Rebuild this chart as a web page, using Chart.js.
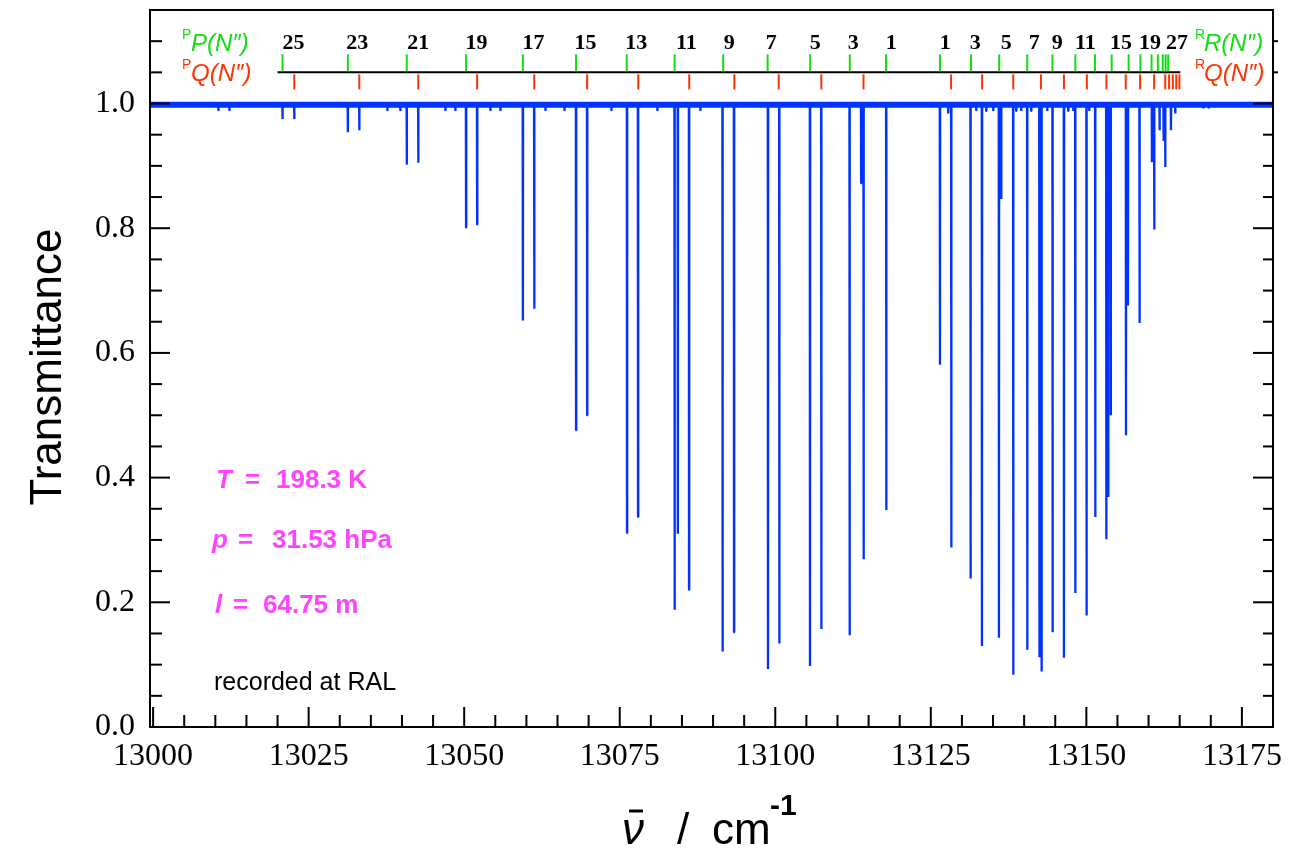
<!DOCTYPE html>
<html><head><meta charset="utf-8">
<script src="https://cdn.jsdelivr.net/npm/chart.js@4.4.1/dist/chart.umd.min.js"></script>
<style>html,body{margin:0;padding:0;background:#fff}#wrap{width:1302px;height:857px;position:relative}</style>
</head><body><div id="wrap"><canvas id="c"></canvas></div>
<script>
// ---- data (wavenumber in cm^-1, transmittance) ----
const lineNu = [13010.49,13012.26,13020.80,13022.69,13031.30,13033.14,13037.65,13039.74,13040.77,13042.62,
  13046.97,13048.58,13050.30,13052.08,13054.21,13055.82,13059.43,13061.26,13063.06,13066.11,
  13067.98,13069.76,13073.66,13076.17,13077.94,13081.05,13083.82,13084.34,13086.14,13087.96,
  13091.53,13093.37,13098.83,13100.65,13105.58,13107.40,13111.95,13113.80,13114.20,13117.84,
  13126.47,13127.79,13128.29,13131.39,13132.30,13133.22,13133.90,13135.03,13135.95,13136.32,
  13138.25,13138.72,13139.53,13140.50,13141.13,13142.45,13142.80,13143.71,13144.57,13146.40,
  13147.08,13147.89,13148.22,13150.03,13150.46,13151.43,13153.20,13153.52,13153.92,13156.37,
  13156.69,13158.55,13160.54,13160.91,13161.77,13162.41,13162.68,13163.60,13164.29,13168.80,13169.70];
const lineT = [0.988,0.988,0.975,0.975,0.954,0.957,0.988,0.988,0.902,0.905,
  0.988,0.988,0.801,0.806,0.988,0.988,0.652,0.671,0.988,0.988,
  0.476,0.500,0.988,0.311,0.337,0.988,0.188,0.310,0.220,0.988,
  0.121,0.152,0.093,0.134,0.098,0.157,0.147,0.872,0.269,0.348,
  0.581,0.985,0.288,0.238,0.988,0.130,0.988,0.988,0.143,0.847,
  0.084,0.988,0.988,0.124,0.988,0.112,0.089,0.988,0.152,0.111,
  0.988,0.988,0.215,0.179,0.988,0.337,0.301,0.369,0.500,0.468,
  0.676,0.648,0.906,0.798,0.957,0.940,0.898,0.957,0.984,0.992,0.992];
const continuum = 0.998;
const xRange = [12999.5, 13180];
const yRange = [0, 1.15];
const xTicks = [13000,13025,13050,13075,13100,13125,13150,13175];
const yTicks = [0.0,0.2,0.4,0.6,0.8,1.0];
// assignment markers
const greenTickNu = [13020.80,13031.30,13040.77,13050.30,13059.43,13067.98,13076.12,13083.82,13091.63,13098.77,13105.61,13111.98,13117.80,
  13126.47,13131.47,13135.99,13140.50,13144.55,13148.23,13151.38,13154.07,13156.80,13158.69,13160.48,13161.49,13162.28,13162.74,13163.16];
const redTickNu = [13022.69,13033.14,13042.62,13052.08,13061.26,13069.76,13077.97,13086.17,13093.42,13100.55,13107.40,13114.18,
  13128.26,13133.25,13138.25,13142.70,13146.40,13150.08,13153.23,13156.33,13158.64,13160.89,13162.68,13163.30,13163.90,13164.45,13164.95];
const markerLineNu = [13020.0, 13165.1];
const markerLevel = 1.05;
const labelNu = [13022.55,13032.83,13042.63,13051.96,13061.12,13069.48,13077.67,13085.71,13092.62,13099.37,13106.44,13112.55,13118.65,
  13127.33,13132.15,13137.13,13141.63,13145.33,13149.83,13155.57,13160.23,13164.57];
const labelText = ['25','23','21','19','17','15','13','11','9','7','5','3','1',
  '1','3','5','7','9','11','15','19','27'];

// ---- build spectrum from the line list ----
const spectrum = [{x:xRange[0], y:continuum}];
lineNu.forEach((nu,i)=>{
  spectrum.push({x:nu-0.03,y:continuum},{x:nu,y:lineT[i]},{x:nu+0.03,y:continuum});
});
spectrum.push({x:xRange[1], y:continuum});
const band = [{x:xRange[0],y:continuum},{x:xRange[1],y:continuum}];

const BLUE='#0033ff', GREEN='#11dd11', RED='#ff3300', MAG='#ff44ff';

const annot = {
  id:'annot',
  afterDraw(chart){
    const {ctx, chartArea:a, scales:{x,y}} = chart;
    ctx.save();
    const seg=(x1,y1,x2,y2)=>{ctx.beginPath();ctx.moveTo(x1,y1);ctx.lineTo(x2,y2);ctx.stroke();};
    // frame
    ctx.strokeStyle='#000'; ctx.lineWidth=2;
    ctx.strokeRect(a.left,a.top,a.right-a.left,a.bottom-a.top);
    // x ticks (inward)
    for(let v=13000; v<=13180; v+=5){
      const px=x.getPixelForValue(v), major=(v%25===0);
      seg(px,a.bottom,px,a.bottom-(major?20:12));
    }
    // y ticks
    for(let i=1;i<=22;i++){
      const v=i*0.05, py=y.getPixelForValue(v), major=(i%4===0 && i<=20);
      seg(a.left,py,a.left+(major?20:12),py);
      if(i<=20) seg(a.right,py,a.right-(major?20:10),py);
      else seg(a.right,py,a.right+5,py);
    }
    // assignment markers
    const my=y.getPixelForValue(markerLevel);
    ctx.strokeStyle='#000'; ctx.lineWidth=2;
    seg(x.getPixelForValue(markerLineNu[0]),my,x.getPixelForValue(markerLineNu[1]),my);
    ctx.strokeStyle=GREEN;
    greenTickNu.forEach(nu=>{const px=x.getPixelForValue(nu); seg(px,my-1,px,my-18);});
    ctx.strokeStyle=RED;
    redTickNu.forEach(nu=>{const px=x.getPixelForValue(nu); seg(px,my+2,px,my+17);});
    ctx.fillStyle='#000'; ctx.textAlign='center'; ctx.textBaseline='alphabetic';
    ctx.font='bold 22px "Liberation Serif"';
    labelNu.forEach((nu,i)=>ctx.fillText(labelText[i], x.getPixelForValue(nu), my-23));
    // branch legends
    const leg=(px,base,sup,main,col)=>{
      ctx.fillStyle=col; ctx.textAlign='left';
      ctx.font='14px "Liberation Sans"'; ctx.fillText(sup,px,base-12);
      ctx.font='italic 24px "Liberation Sans"'; ctx.fillText(main,px+9,base);
    };
    leg(182,my-21,'P','P(N\u2033)',GREEN);
    leg(182,my+9,'P','Q(N\u2033)',RED);
    leg(1195,my-21,'R','R(N\u2033)',GREEN);
    leg(1195,my+9,'R','Q(N\u2033)',RED);
    // conditions
    ctx.fillStyle=MAG; ctx.textAlign='left';
    const cond=(sym,sx,ex,val,vx,base)=>{
      ctx.font='italic bold 26px "Liberation Sans"'; ctx.fillText(sym,sx,base);
      ctx.font='bold 26px "Liberation Sans"'; ctx.fillText('=',ex,base); ctx.fillText(val,vx,base);
    };
    cond('T',216,245,'198.3 K',276,488);
    cond('p',212,238,'31.53 hPa',272,548);
    cond('l',215,233,'64.75 m',263,613);
    ctx.fillStyle='#000'; ctx.font='25px "Liberation Sans"';
    ctx.fillText('recorded at RAL',214,690);
    // axis titles
    ctx.save();
    ctx.translate(61,367); ctx.rotate(-Math.PI/2);
    ctx.textAlign='center'; ctx.font='44px "Liberation Sans"';
    ctx.fillText('Transmittance',0,0);
    ctx.restore();
    ctx.textAlign='left';
    ctx.font='italic 44px "Liberation Sans"'; ctx.fillText('\u03bd',622,844);
    ctx.lineWidth=3; ctx.strokeStyle='#000'; seg(629,811,643,811);
    ctx.font='44px "Liberation Sans"'; ctx.fillText('/',677,844); ctx.fillText('cm',712,844);
    ctx.font='bold 30px "Liberation Sans"'; ctx.fillText('-1',770,815);
    ctx.restore();
  }
};

new Chart(document.getElementById('c'),{
  type:'line',
  data:{datasets:[
    {data:band, borderColor:BLUE, borderWidth:6, pointRadius:0, tension:0},
    {data:spectrum, borderColor:BLUE, borderWidth:2.3, pointRadius:0, tension:0, borderJoinStyle:'bevel'}
  ]},
  options:{
    responsive:true, maintainAspectRatio:false, animation:false,
    layout:{padding:{top:10,right:29,left:0,bottom:0}},
    plugins:{legend:{display:false},tooltip:{enabled:false}},
    scales:{
      x:{type:'linear',min:xRange[0],max:xRange[1],
        grid:{display:false,drawTicks:false}, border:{display:false},
        afterBuildTicks:s=>{s.ticks=xTicks.map(v=>({value:v}));},
        afterFit:s=>{s.height=130; s.paddingLeft=0; s.paddingRight=0;},
        ticks:{autoSkip:false,maxRotation:0,padding:10,color:'#000',font:{family:'Liberation Serif',size:32},callback:v=>String(v)}},
      y:{type:'linear',min:yRange[0],max:yRange[1],
        grid:{display:false,drawTicks:false}, border:{display:false},
        afterBuildTicks:s=>{s.ticks=yTicks.map(v=>({value:v}));},
        afterFit:s=>{s.width=150; s.paddingTop=0; s.paddingBottom=0;},
        ticks:{autoSkip:false,padding:15,color:'#000',font:{family:'Liberation Serif',size:32},callback:v=>Number(v).toFixed(1)}}
    }
  },
  plugins:[annot]
});
</script></body></html>
